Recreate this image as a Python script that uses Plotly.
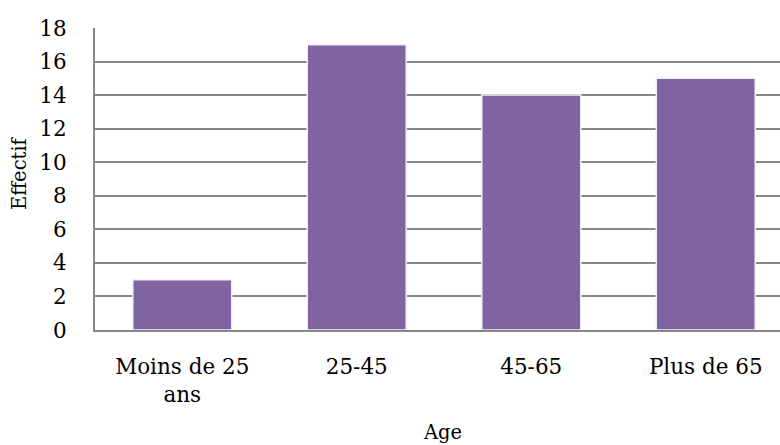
import plotly.graph_objects as go

# Age groups and headcount
categories = ["Moins de 25<br>ans", "25-45", "45-65", "Plus de 65"]
effectif = [3, 17, 14, 15]
y_ticks = [0, 2, 4, 6, 8, 10, 12, 14, 16, 18]

FONT = "DejaVu Serif"
GRID = "#878787"

W, H = 780, 445
ML, MR, MT, MB = 95, 0, 28, 115

fig = go.Figure(
    go.Bar(
        x=list(range(len(categories))),
        y=effectif,
        width=0.567,
        marker=dict(color="#8064A2", line=dict(color="#F2EFF6", width=1.5)),
        hoverinfo="y",
    )
)


def px_to_paper(x, y):
    return (x - ML) / (W - ML - MR), (H - MB - y) / (H - MB - MT)


ax, ay = px_to_paper(443, 432)
ex, ey = px_to_paper(19, 173)

fig.update_layout(
    width=W,
    height=H,
    margin=dict(l=ML, r=MR, t=MT, b=MB),
    paper_bgcolor="white",
    plot_bgcolor="white",
    showlegend=False,
    font=dict(family=FONT, size=21.5, color="black"),
    xaxis=dict(
        range=[-0.5, 3.4255],
        tickvals=list(range(len(categories))),
        ticktext=categories,
        showgrid=False,
        zeroline=False,
        showline=True,
        linecolor=GRID,
        linewidth=2,
        ticks="outside",
        ticklen=16,
        tickcolor="rgba(0,0,0,0)",
        fixedrange=True,
    ),
    yaxis=dict(
        range=[0, 18],
        tickvals=y_ticks,
        showgrid=True,
        gridcolor=GRID,
        gridwidth=2,
        zeroline=False,
        showline=True,
        linecolor=GRID,
        linewidth=2,
        ticks="outside",
        ticklen=22,
        tickcolor="rgba(0,0,0,0)",
        fixedrange=True,
    ),
    annotations=[
        dict(text="Age", x=ax, y=ay, xref="paper", yref="paper", showarrow=False,
             xanchor="center", yanchor="middle", font=dict(size=19.5)),
        dict(text="Effectif", textangle=-90, x=ex, y=ey, xref="paper", yref="paper",
             showarrow=False, xanchor="center", yanchor="middle", font=dict(size=19.5)),
    ],
)

fig.write_html("out.html", config={"displayModeBar": False},
               post_script="document.body.style.margin='0';")
